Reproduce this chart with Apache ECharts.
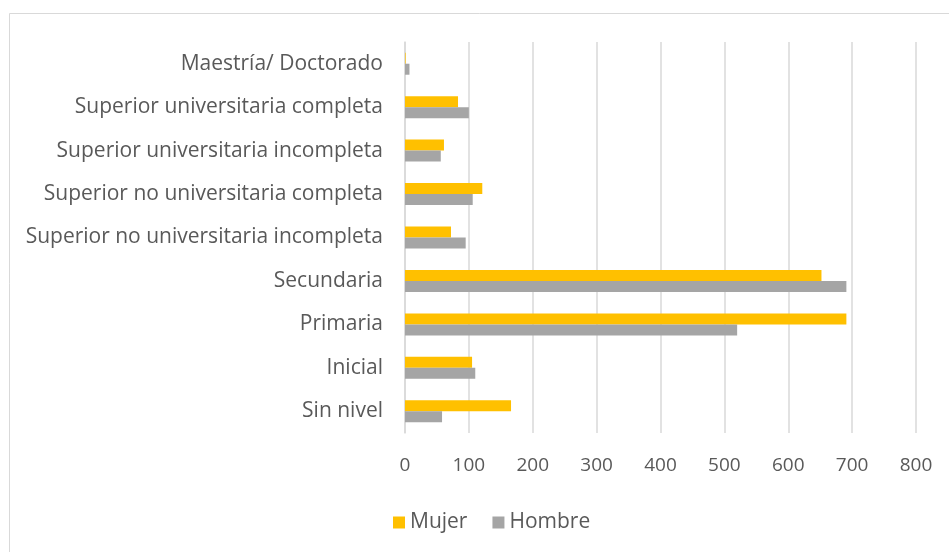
<!DOCTYPE html>
<html>
<head>
<meta charset="utf-8">
<script src="https://cdn.jsdelivr.net/npm/echarts@6/dist/echarts.min.js"></script>
<style>
  html, body { margin: 0; padding: 0; background: #fff; }
  #chart { width: 949px; height: 552px; }
</style>
</head>
<body>
<div id="chart"></div>
<script>
// niveles educativos (de abajo hacia arriba)
const categories = [
  "Sin nivel",
  "Inicial",
  "Primaria",
  "Secundaria",
  "Superior no universitaria incompleta",
  "Superior no universitaria completa",
  "Superior universitaria incompleta",
  "Superior universitaria completa",
  "Maestría/ Doctorado"
];
const mujer = [166, 105, 691, 652, 72, 121, 61, 83, 1];
const hombre = [58, 110, 520, 691, 95, 106, 56, 100, 7];
const xTicks = [0, 100, 200, 300, 400, 500, 600, 700, 800];

const fontFam = "'Open Sans', sans-serif";
const textColor = "#595959";

const myChart = echarts.init(document.getElementById("chart"));

const option = {
  animation: false,
  backgroundColor: "#fff",
  graphic: [
    {
      type: "rect",
      shape: { x: 9.5, y: 13.5, width: 960, height: 560 },
      style: { fill: "none", stroke: "#d9d9d9", lineWidth: 1 },
      silent: true
    }
  ],
  grid: {
    left: 405,
    right: 33,
    top: 42,
    bottom: 119
  },
  legend: {
    data: ["Mujer", "Hombre"],
    left: 388,
    top: 507,
    itemWidth: 12,
    itemHeight: 12,
    itemGap: 25,
    icon: "rect",
    textStyle: { color: textColor, fontSize: 21, fontFamily: fontFam }
  },
  xAxis: {
    type: "value",
    min: xTicks[0],
    max: xTicks[xTicks.length - 1],
    interval: 100,
    axisLine: { show: false },
    axisTick: { show: false },
    splitLine: { show: true, lineStyle: { color: "#d9d9d9", width: 1.5 } },
    axisLabel: { color: textColor, fontSize: 19, fontFamily: fontFam, margin: 23 }
  },
  yAxis: {
    type: "category",
    data: categories,
    axisLine: { show: true, lineStyle: { color: "#d9d9d9", width: 1.5 } },
    axisTick: { show: false },
    axisLabel: { color: textColor, fontSize: 21, fontFamily: fontFam, margin: 22 }
  },
  series: [
    {
      name: "Mujer",
      type: "bar",
      data: mujer,
      barWidth: 11,
      barGap: "0%",
      itemStyle: { color: "#FFC000" }
    },
    {
      name: "Hombre",
      type: "bar",
      data: hombre,
      barWidth: 11,
      barGap: "0%",
      itemStyle: { color: "#A5A5A5" }
    }
  ]
};

myChart.setOption(option);
window.addEventListener("resize", myChart.resize);
</script>
</body>
</html>
